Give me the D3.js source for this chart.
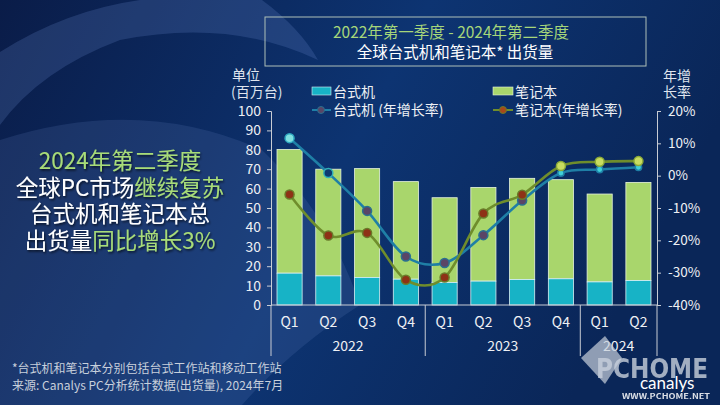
<!DOCTYPE html>
<html><head><meta charset="utf-8">
<script src="https://cdn.jsdelivr.net/npm/d3@7"></script>
<style>body{margin:0;background:#0b2456;}svg{display:block;}</style>
</head><body>
<script>
const quarters = ["Q1","Q2","Q3","Q4","Q1","Q2","Q3","Q4","Q1","Q2"];
const years = ["2022","2023","2024"];
const yearQuarterCounts = [4,4,2];
const desktop = [16.4,15.0,14.2,13.3,11.6,12.3,13.1,13.5,11.9,12.6];
const notebook = [63.8,55.0,56.1,50.3,43.7,48.3,52.2,51.1,45.3,50.6];
const desktopGrowth = [11.6,0.8,-10.9,-25.0,-27.0,-18.4,-7.7,0.8,1.9,2.6];
const notebookGrowth = [-5.8,-18.5,-17.7,-32.2,-31.5,-11.7,-5.9,3.0,4.3,4.5];
const leftTicks = [0,10,20,30,40,50,60,70,80,90,100];
const rightTicks = [-40,-30,-20,-10,0,10,20];

const W=720,H=405;
const FONT='"Noto Sans CJK SC","Noto Sans",sans-serif';
const svg=d3.select("body").append("svg").attr("width",W).attr("height",H).style("font-family",FONT);
const defs=svg.append("defs");
const g1=defs.append("linearGradient").attr("id","bg").attr("x1","0").attr("y1","0").attr("x2","1").attr("y2","0.3");
g1.append("stop").attr("offset","0").attr("stop-color","#0a1c48");
g1.append("stop").attr("offset","0.55").attr("stop-color","#0d3472");
g1.append("stop").attr("offset","1").attr("stop-color","#0a2658");
svg.append("rect").attr("width",W).attr("height",H).attr("fill","url(#bg)");
// decorative arcs
svg.append("path").attr("d","M0,52 Q110,-18 248,0 L262,0 Q300,28 318,60 Q230,18 120,40 Q40,70 0,125 Z").attr("fill","#6f8fd0").attr("opacity",0.22);
svg.append("path").attr("d","M0,140 Q140,95 262,150 Q330,215 360,305 Q290,350 242,405 L0,405 Z").attr("fill","#6f8fd0").attr("opacity",0.16);
const dropF=defs.append("filter").attr("id","sh").attr("x","-10%").attr("y","-10%").attr("width","120%").attr("height","130%");
dropF.append("feDropShadow").attr("dx",1).attr("dy",1.5).attr("stdDeviation",1).attr("flood-color","#000").attr("flood-opacity",0.7);

// scales
const x=d3.scaleBand().domain(d3.range(quarters.length)).range([271,657]).paddingInner(0.352).paddingOuter(0.155);
const y=d3.scaleLinear().domain([0,100]).range([305,111]);
const y2=d3.scaleLinear().domain([-40,20]).range([305,111]);

// title box
svg.append("rect").attr("x",265).attr("y",17).attr("width",381).attr("height",49).attr("fill","none").attr("stroke","#aebfb8").attr("stroke-width",1);
svg.append("text").attr("x",451).attr("y",38).attr("text-anchor","middle").attr("font-size",15.5).attr("fill","#a6d67a").text("2022年第一季度 - 2024年第二季度");
svg.append("text").attr("x",455).attr("y",58).attr("text-anchor","middle").attr("font-size",15.5).attr("fill","#ffffff").text("全球台式机和笔记本* 出货量");

// axis titles
const axT=svg.append("g").attr("fill","#dfe4ee").attr("font-size",14);
axT.append("text").attr("x",232).attr("y",80).text("单位");
axT.append("text").attr("x",231).attr("y",97).text("(百万台)");
axT.append("text").attr("x",663).attr("y",81).text("年增");
axT.append("text").attr("x",663).attr("y",97).text("长率");

// bars
const bars=svg.append("g");
quarters.forEach((q,i)=>{
  bars.append("rect").attr("x",x(i)).attr("width",x.bandwidth()).attr("y",y(desktop[i]+notebook[i])).attr("height",y(desktop[i])-y(desktop[i]+notebook[i])).attr("fill","#a9d66c").attr("stroke","#e8f4dc").attr("stroke-width",0.8);
  bars.append("rect").attr("x",x(i)).attr("width",x.bandwidth()).attr("y",y(desktop[i])).attr("height",y(0)-y(desktop[i])).attr("fill","#17b3c6").attr("stroke","#d8f0f4").attr("stroke-width",0.8);
});

// axes
const axL=svg.append("g").attr("transform","translate(271,0)").call(d3.axisLeft(y).tickValues(leftTicks).tickSize(4).tickPadding(6));
const axR=svg.append("g").attr("transform","translate(657,0)").call(d3.axisRight(y2).tickValues(rightTicks).tickSize(4).tickPadding(7).tickFormat(d=>d+"%"));
[axL,axR].forEach(a=>{a.selectAll("path,line").attr("stroke","#c8ccd4");a.selectAll("text").attr("fill","#eef0f4").attr("font-size",14).attr("font-family",FONT);});
axR.selectAll("text").attr("font-size",13.5);
// x axis line
svg.append("line").attr("x1",271).attr("x2",657).attr("y1",305).attr("y2",305).attr("stroke","#c8ccd4");
// category labels
svg.append("g").selectAll("text").data(quarters).join("text").attr("x",(d,i)=>x(i)+x.bandwidth()/2).attr("y",327).attr("text-anchor","middle").attr("font-size",14).attr("fill","#eef0f4").text(d=>d);
// year separators and labels
let acc=0;
const sepX=[271];
yearQuarterCounts.forEach((c,k)=>{
  const e=acc+c-1;
  const right = (e===quarters.length-1)?657:(x(e)+x.bandwidth()+x(e+1))/2;
  sepX.push(right);
  const left=sepX[k];
  svg.append("text").attr("x",(left+right)/2).attr("y",351).attr("text-anchor","middle").attr("font-size",14).attr("fill","#eef0f4").text(years[k]);
  acc+=c;
});
svg.append("g").selectAll("line").data(sepX).join("line").attr("x1",d=>d).attr("x2",d=>d).attr("y1",305).attr("y2",356).attr("stroke","#c8ccd4");

// lines
const cx=i=>x(i)+x.bandwidth()/2;
const line=d3.line().x((d,i)=>cx(i)).y(d=>y2(d)).curve(d3.curveCardinal.tension(0));
svg.append("path").attr("d",line(desktopGrowth)).attr("fill","none").attr("stroke","#1f7fa6").attr("stroke-width",2.6);
svg.append("path").attr("d",line(notebookGrowth)).attr("fill","none").attr("stroke","#6f8d2c").attr("stroke-width",2.6);
const dFill=i=> i===0?"#7fe0e0": i===1?"#0d3a70": i>=7?"#3fd0d8":"#5a4566";
const dStroke=i=> i===0?"#2fa8c0": i===1?"#2fb0b8": i>=7?"#1f7fa6":"#2a7090";
const dR=i=> i>=7?3.2:4.5;
svg.append("g").selectAll("circle").data(desktopGrowth).join("circle").attr("cx",(d,i)=>cx(i)).attr("cy",d=>y2(d)).attr("r",(d,i)=>dR(i)).attr("fill",(d,i)=>dFill(i)).attr("stroke",(d,i)=>dStroke(i)).attr("stroke-width",1.5);
const nFill=i=> i>=7?"#c8dc60":"#8e3216";
const nStroke=i=> i>=7?"#8aa838":"#6a7a2a";
svg.append("g").selectAll("circle").data(notebookGrowth).join("circle").attr("cx",(d,i)=>cx(i)).attr("cy",d=>y2(d)).attr("r",4.5).attr("fill",(d,i)=>nFill(i)).attr("stroke",(d,i)=>nStroke(i)).attr("stroke-width",1.5);

// legend
const lg=svg.append("g").attr("font-size",14).attr("fill","#eef0f4");
lg.append("rect").attr("x",312).attr("y",87).attr("width",19).attr("height",8).attr("fill","#17b3c6").attr("stroke","#d8f0f4").attr("stroke-width",0.6);
lg.append("text").attr("x",333).attr("y",97).text("台式机");
lg.append("line").attr("x1",312).attr("x2",331).attr("y1",110).attr("y2",110).attr("stroke","#1f7fa6").attr("stroke-width",2);
lg.append("circle").attr("cx",321).attr("cy",110).attr("r",3.5).attr("fill","#5a4566").attr("stroke","#2a7090");
lg.append("text").attr("x",333).attr("y",115).text("台式机 (年增长率)");
lg.append("rect").attr("x",493).attr("y",87).attr("width",20).attr("height",8).attr("fill","#a9d66c").attr("stroke","#e8f4dc").attr("stroke-width",0.6);
lg.append("text").attr("x",515).attr("y",97).text("笔记本");
lg.append("line").attr("x1",493).attr("x2",513).attr("y1",110).attr("y2",110).attr("stroke","#6f8d2c").attr("stroke-width",2);
lg.append("circle").attr("cx",503).attr("cy",110).attr("r",3.5).attr("fill","#a8481a").attr("stroke","#6a7a2a");
lg.append("text").attr("x",515).attr("y",115).text("笔记本(年增长率)");

// left headline
const G="#a8dc78", Wt="#ffffff";
const head=[
  [["2024年第二季度",G]],
  [["全球PC市场",Wt],["继续复苏",G]],
  [["台式机和笔记本总",Wt]],
  [["出货量",Wt],["同比增长3%",G]]
];
const hg=svg.append("g").attr("filter","url(#sh)");
head.forEach((parts,k)=>{
  const t=hg.append("text").attr("x",120).attr("y",169+k*26.5).attr("text-anchor","middle").attr("font-size",22.5);
  parts.forEach(p=>t.append("tspan").attr("fill",p[1]).text(p[0]));
});

// footnotes
const fn=svg.append("g").attr("font-size",12).attr("fill","#c8d0dc");
fn.append("text").attr("x",12).attr("y",373).text("*台式机和笔记本分别包括台式工作站和移动工作站");
fn.append("text").attr("x",12).attr("y",390).text("来源: Canalys PC分析统计数据(出货量), 2024年7月");

// watermark
const wm=svg.append("g");
wm.append("path").attr("d","M581,358 L605,336 L622,358 L605,384 Z").attr("fill","#c8d0dc").attr("opacity",0.7);
wm.append("text").attr("x",596).attr("y",378).attr("font-size",26).attr("font-weight","bold").attr("fill","#c8d0dc").attr("opacity",0.8).attr("font-family","DejaVu Sans Condensed, sans-serif").attr("textLength",112).attr("lengthAdjust","spacingAndGlyphs").text("PCHOME");
wm.append("text").attr("x",640).attr("y",389).attr("font-size",17).attr("fill","#ffffff").attr("font-family","Lato, sans-serif").text("canalys");
wm.append("text").attr("x",622).attr("y",399).attr("font-size",7).attr("font-weight","bold").attr("fill","#ffffff").attr("opacity",0.85).attr("textLength",88).attr("lengthAdjust","spacingAndGlyphs").text("WWW.PCHOME.NET");
</script>
</body></html>
